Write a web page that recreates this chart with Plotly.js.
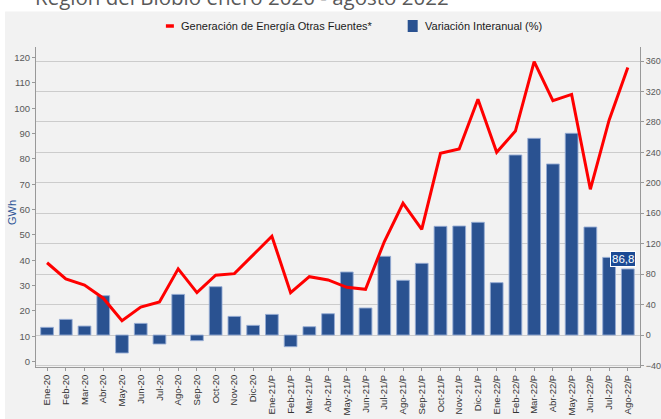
<!DOCTYPE html>
<html>
<head>
<meta charset="utf-8">
<script src="https://cdn.plot.ly/plotly-3.0.1.min.js"></script>
<style>html,body{margin:0;padding:0;background:#fff;}#chart{width:661px;height:419px;}</style>
</head>
<body>
<div id="chart"></div>
<script>
var months = ['Ene-20','Feb-20','Mar-20','Abr-20','May-20','Jun-20','Jul-20','Ago-20','Sep-20','Oct-20','Nov-20','Dic-20',
  'Ene-21/P','Feb-21/P','Mar-21/P','Abr-21/P','May-21/P','Jun-21/P','Jul-21/P','Ago-21/P','Sep-21/P','Oct-21/P','Nov-21/P','Dic-21/P',
  'Ene-22/P','Feb-22/P','Mar-22/P','Abr-22/P','May-22/P','Jun-22/P','Jul-22/P','Ago-22/P'];
var generacionGWh = [39.0,32.6,30.2,25.0,16.1,21.5,23.5,36.6,27.2,34.1,34.7,42.0,
  49.5,27.2,33.5,32.2,29.3,28.5,47.3,62.5,52.2,82.2,83.9,103.6,
  82.6,91.0,118.4,103.0,105.5,68.0,95.3,116.1];
var variacionPct = [10.1,20.6,11.8,51.7,-23.6,15.3,-11.8,53.4,-7.4,63.5,24.5,12.7,
  27.1,-15.3,10.9,28.0,82.8,35.5,103.4,71.9,94.2,142.8,143.2,148.1,
  68.8,236.5,258.4,224.7,265.0,141.9,102.0,86.8];
var gwhTicks = [0,10,20,30,40,50,60,70,80,90,100,110,120];
var pctTicks = [-40,0,40,80,120,160,200,240,280,320,360];
var titleText = 'Región del Biobío enero 2020 - agosto 2022';
var lineName = 'Generación de Energía Otras Fuentes*';
var barName = 'Variación Interanual (%)';
var gwhTitle = 'GWh';
var lastLabel = '86,8';

var SANS = '"Liberation Sans", Arial, sans-serif';
var W = 661, H = 419, L = 36, R = 20.5, T = 47, B = 52;
var pw = W - L - R, ph = H - T - B;
function px(x){ return (x - L) / pw; }
function py(y){ return (H - B - y) / ph; }

var traces = [
  {type:'bar', x: months, y: variacionPct, name: barName, yaxis:'y', xaxis:'x',
   marker:{color:'#2A5291', line:{color:'rgba(150,172,212,0.9)', width:1}}, width:0.68, showlegend:false, hoverinfo:'skip'},
  {type:'scatter', mode:'lines', x: months, y: generacionGWh, name: lineName, yaxis:'y2', xaxis:'x',
   line:{color:'#FF0000', width:3}, showlegend:false, hoverinfo:'skip'}
];

var layout = {
  width: W, height: H,
  margin:{l:L, r:R, t:T, b:B, pad:0},
  paper_bgcolor:'#FFFFFF', plot_bgcolor:'rgba(0,0,0,0)',
  showlegend:false,
  title:{text:titleText, font:{family:'"Open Sans", sans-serif', size:20.5, color:'#595959'},
    xref:'container', yref:'container', x: 35/W, xanchor:'left', y: 1 - 5/H, yanchor:'bottom'},
  xaxis:{type:'category', range:[-0.59, 31.65], tickangle:-90, ticks:'outside', ticklen:3, tickcolor:'#999999',
    showline:true, linecolor:'#999999', linewidth:1, showgrid:false, zeroline:false,
    tickfont:{family:SANS, size:9.5, color:'#333333'}},
  yaxis:{side:'right', range:[-42, 378.4], tickvals:pctTicks, ticks:'outside', ticklen:3, tickcolor:'#999999',
    showline:true, linecolor:'#999999', showgrid:true, gridcolor:'#CCCCCC', gridwidth:1, zeroline:false,
    tickfont:{family:SANS, size:9, color:'#595959'}},
  yaxis2:{overlaying:'y', side:'left', range:[-2.17, 124.2], tickvals:gwhTicks, ticks:'outside', ticklen:3, tickcolor:'#999999',
    showline:true, linecolor:'#999999', showgrid:false, zeroline:false,
    tickfont:{family:SANS, size:9.5, color:'#595959'}},
  shapes:[
    {type:'rect', xref:'paper', yref:'paper', x0:px(5), x1:px(670), y0:py(430), y1:py(11.5), layer:'below',
     fillcolor:'#F2F2F2', line:{width:0}},
    {type:'line', xref:'paper', yref:'paper', x0:px(166), x1:px(174), y0:py(26), y1:py(26), line:{color:'#FF0000', width:3.5}},
    {type:'rect', xref:'paper', yref:'paper', x0:px(408), x1:px(418), y0:py(32), y1:py(20), fillcolor:'#2A5291', line:{width:0}}
  ],
  annotations:[
    {xref:'paper', yref:'paper', x:px(179), y:py(26), xanchor:'left', yanchor:'middle', showarrow:false,
     text:lineName, font:{family:SANS, size:11, color:'#1A1A1A'}},
    {xref:'paper', yref:'paper', x:px(423), y:py(26), xanchor:'left', yanchor:'middle', showarrow:false,
     text:barName, font:{family:SANS, size:11, color:'#1A1A1A'}},
    {xref:'paper', yref:'paper', x:px(12), y:py(213), xanchor:'center', yanchor:'middle', showarrow:false, textangle:-90,
     text:gwhTitle, font:{family:SANS, size:11, color:'#2F5597'}},
    {xref:'x', yref:'y', x: months[months.length-1], y: variacionPct[variacionPct.length-1], xanchor:'center', yanchor:'bottom',
     xshift:-4.5, yshift:1.5, showarrow:false, text:lastLabel, bgcolor:'#1B4A94', bordercolor:'#FFFFFF', borderwidth:1, borderpad:1,
     font:{family:SANS, size:11.5, color:'#FFFFFF'}}
  ]
};

Plotly.newPlot('chart', traces, layout, {displayModeBar:false, staticPlot:true});
</script>
</body>
</html>
